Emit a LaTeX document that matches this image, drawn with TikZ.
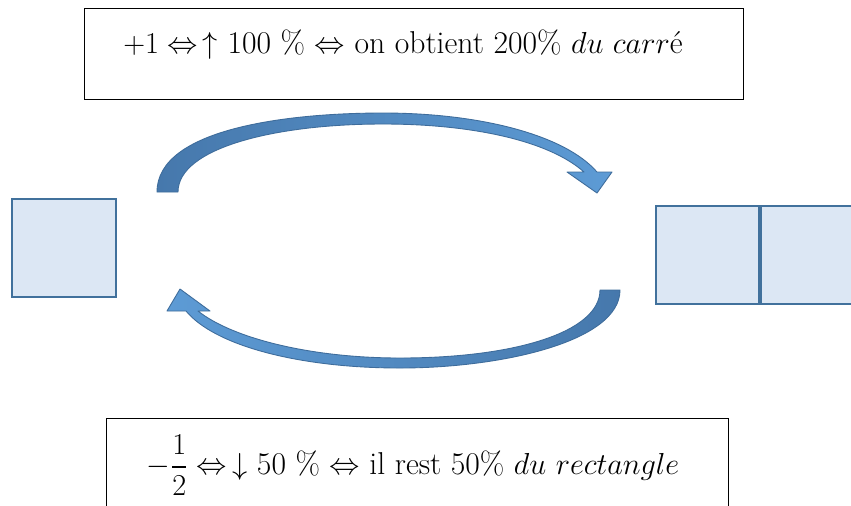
\documentclass[tikz,border=0pt]{standalone}
\usepackage{amsmath}
\usetikzlibrary{positioning}
\definecolor{carreFond}{RGB}{220,231,244}
\definecolor{carreBord}{RGB}{65,113,156}
\definecolor{flecheFonce}{RGB}{70,120,172}
\definecolor{flecheClair}{RGB}{93,155,213}
\definecolor{flecheBord}{RGB}{62,108,155}

\tikzset{
  cadre/.style={draw=black, thin, rectangle, inner sep=0pt},
  carre/.style={draw=carreBord, fill=carreFond, line width=1.1pt, rectangle, inner sep=0pt, minimum width=2.06cm, minimum height=1.96cm},
  texte/.style={font=\fontsize{18}{21}\selectfont, inner sep=0pt},
  fleche/.style={draw=flecheBord, line width=0.5pt, line join=round},
}

\begin{document}
\begin{tikzpicture}[x=0.02cm,y=-0.02cm]
\useasboundingbox (0,0) rectangle (851,505);
\clip (0,0) rectangle (851,505);
\fill[white] (0,0) rectangle (851,505);

% cadres du haut et du bas
\node[cadre, minimum width=13.18cm, minimum height=1.82cm] (haut) at (413.5,53.5) {};
\node[texte] (texteHaut) at (403,45) {$+1 \Leftrightarrow\,\uparrow$ 100 \% $\Leftrightarrow$ on obtient 200\% $du\ carr$é};
\node[cadre, minimum width=12.44cm, minimum height=2.2cm] (bas) at (417,473) {};
\node[texte] (texteBas) at (413,465) {$-\dfrac{1}{2}\Leftrightarrow\,\downarrow$ 50 \% $\Leftrightarrow$ il rest 50\% $du\ rectangle$};

% carres
\node[carre, minimum width=2.08cm] (gauche) at (64,248) {};
\node[carre] (droite1) at (707.5,255) {};
\node[carre, right=0pt of droite1] (droite2) {};

% fleches courbes
\shadedraw[fleche, left color=flecheFonce, right color=flecheClair]
  (157,192) .. controls (157,128) and (290,113) .. (383,113)
  .. controls (480,113) and (565,135) .. (597,172)
  -- (612,172) -- (597,193) -- (567,172) -- (584,172)
  .. controls (548,140) and (470,124) .. (383,124)
  .. controls (275,124) and (178,148) .. (178,192) -- cycle;
\shadedraw[fleche, left color=flecheClair, right color=flecheFonce]
  (620,290) .. controls (620,342) and (500,368) .. (400,368)
  .. controls (300,368) and (215,346) .. (186,311)
  -- (167,311) -- (180,289) -- (210,311) -- (198,311)
  .. controls (232,338) and (310,358) .. (400,358)
  .. controls (515,358) and (600,332) .. (600,290) -- cycle;

\end{tikzpicture}
\end{document}
